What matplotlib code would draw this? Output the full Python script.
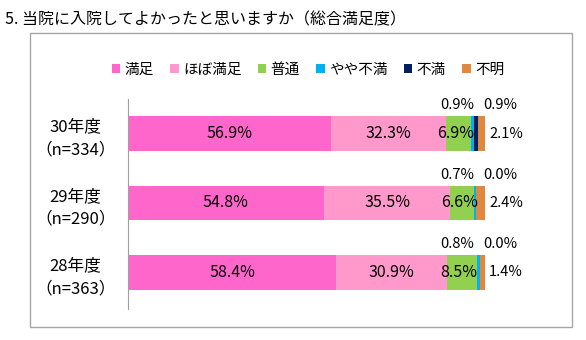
import matplotlib
matplotlib.use("Agg")
import matplotlib.pyplot as plt
from matplotlib.patches import Rectangle
import numpy as np

plt.rcParams['font.family'] = ['Noto Sans CJK JP', 'DejaVu Sans']

title = "5. 当院に入院してよかったと思いますか（総合満足度）"
categories = ["30年度\n（n=334）", "29年度\n（n=290）", "28年度\n（n=363）"]
series_names = ["満足", "ほぼ満足", "普通", "やや不満", "不満", "不明"]
colors = ["#FF66CC", "#FF99CC", "#92D050", "#00B0F0", "#002060", "#E0883E"]
manzoku = [56.9, 54.8, 58.4]
hobo = [32.3, 35.5, 30.9]
futsu = [6.9, 6.6, 8.5]
yaya = [0.9, 0.7, 0.8]
fuman = [0.9, 0.0, 0.0]
fumei = [2.1, 2.4, 1.4]
series = [manzoku, hobo, futsu, yaya, fuman, fumei]

W, H = 586, 340
fig = plt.figure(figsize=(W / 100, H / 100), dpi=100)

# frame box
fig.patches.append(Rectangle((30 / W, 1 - 327 / H), (572 - 30) / W, (327 - 33) / H,
                             transform=fig.transFigure, fill=False,
                             edgecolor="#A6A6A6", linewidth=1.0))
fig.text(5 / W, 1 - 20 / H, title, fontsize=11.5, va="center", ha="left")

ax = fig.add_axes([128 / W, 1 - 309 / H, 357 / W, 210 / H])
y = np.arange(len(categories))
left = np.zeros(len(categories))
handles = []
for name, vals, c in zip(series_names, series, colors):
    b = ax.barh(y, vals, left=left, height=0.5, color=c, label=name)
    handles.append(b)
    left = left + np.array(vals)

fs_in = 11.5
fs_out = 10.5
for i in range(len(categories)):
    m, h, f = manzoku[i], hobo[i], futsu[i]
    ax.text(m / 2, i, f"{m:.1f}%", ha="center", va="center", fontsize=fs_in)
    ax.text(m + h / 2, i, f"{h:.1f}%", ha="center", va="center", fontsize=fs_in)
    ax.text(m + h + f / 2 - 0.8, i, f"{f:.1f}%", ha="center", va="center", fontsize=fs_in)
    ax.annotate(f"{yaya[i]:.1f}%", xy=(100, i - 0.25), xytext=(-20, 8),
                textcoords="offset points", ha="center", va="center", fontsize=fs_out)
    ax.annotate(f"{fuman[i]:.1f}%", xy=(100, i - 0.25), xytext=(11, 8),
                textcoords="offset points", ha="center", va="center", fontsize=fs_out)
    ax.annotate(f"{fumei[i]:.1f}%", xy=(100, i), xytext=(3, 0),
                textcoords="offset points", ha="left", va="center", fontsize=fs_out)

ax.set_xlim(0, 100)
ax.set_ylim(2.53, -0.5)
ax.set_yticks(y)
ax.set_yticklabels(categories, fontsize=12, ha="center", linespacing=1.45)
ax.tick_params(axis="y", length=0, pad=38)
ax.set_xticks([])
for s in ["top", "right", "bottom"]:
    ax.spines[s].set_visible(False)
ax.spines["left"].set_color("#A0A0A0")
ax.spines["left"].set_linewidth(0.8)

fig.legend(handles=handles, labels=series_names, loc="center",
           bbox_to_anchor=(308 / W, 1 - 70 / H), ncol=6, frameon=False,
           fontsize=10.5, handlelength=0.6, handleheight=0.6, handletextpad=0.3,
           columnspacing=1.1)

fig.savefig("out.png", dpi=100)
